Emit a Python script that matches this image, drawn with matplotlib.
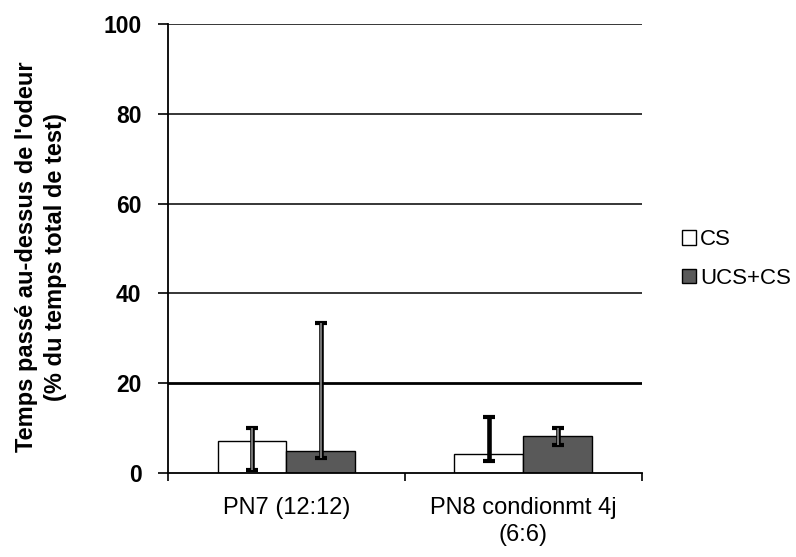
import numpy as np
import matplotlib
matplotlib.use("Agg")
import matplotlib.pyplot as plt

plt.rcParams['font.family'] = ['Liberation Sans', 'DejaVu Sans']

# groups and per-series means with lower/upper error bounds (% of test time)
groups = ["PN7 (12:12)", "PN8 condionmt 4j\n(6:6)"]
series = ["CS", "UCS+CS"]
cs_mean = [7.2, 4.3]
cs_low = [0.7, 2.7]
cs_high = [9.9, 12.4]
ucs_mean = [4.9, 8.3]
ucs_low = [3.3, 6.2]
ucs_high = [33.3, 10.1]
yticks = [0, 20, 40, 60, 80, 100]

fig = plt.figure(figsize=(7.96, 5.57), dpi=100)
ax = fig.add_axes([0.211, 0.151, 0.595, 0.806])

x = np.arange(len(groups))
w = 0.29

# horizontal grid lines (the 20 line is heavier)
for t in yticks[1:]:
    ax.axhline(t, color="black", lw=2.0 if t == 20 else 1.1, zorder=1)

ax.bar(x - w / 2, cs_mean, w, color="white", edgecolor="black", lw=1.0,
       label=series[0], zorder=2)
ax.bar(x + w / 2, ucs_mean, w, color="#595959", edgecolor="black", lw=1.0,
       label=series[1], zorder=2)

def draw_err(xs, means, lows, highs, inner):
    means = np.array(means)
    yerr = [means - np.array(lows), np.array(highs) - means]
    ax.errorbar(xs, means, yerr=yerr, fmt="none", ecolor="black",
                elinewidth=3.3, capsize=4.5, capthick=3, zorder=3)
    if inner is not None:
        ax.errorbar(xs, means, yerr=yerr, fmt="none", ecolor=inner,
                    elinewidth=1.3, capsize=0, zorder=4)

draw_err([x[0] - w / 2], cs_mean[:1], cs_low[:1], cs_high[:1], "#808080")
draw_err([x[1] - w / 2], cs_mean[1:], cs_low[1:], cs_high[1:], None)
draw_err(x + w / 2, ucs_mean, ucs_low, ucs_high, "#808080")

ax.set_xlim(-0.5, 1.5)
ax.set_ylim(0, 100)
ax.set_yticks(yticks)
ax.set_yticklabels([str(t) for t in yticks], fontsize=16.5, fontweight="bold")
ax.set_xticks([-0.5, 0.5, 1.5])
ax.set_xticklabels([])
ax.set_xticks(x, minor=True)
ax.set_xticklabels(groups, minor=True, fontsize=17, linespacing=1.3)
ax.tick_params(axis="x", which="minor", length=0, pad=17)
ax.tick_params(axis="x", which="major", direction="out", length=6, width=1.2)
ax.tick_params(axis="y", direction="out", length=7, width=1.2, pad=12)

for s in ["top", "right"]:
    ax.spines[s].set_visible(False)
ax.spines["left"].set_linewidth(1.3)
ax.spines["bottom"].set_linewidth(1.3)
ax.spines["bottom"].set_zorder(5)

fig.text(41 / 796, 1 - 257 / 557,
         "Temps passé au-dessus de l'odeur\n(% du temps total de test)",
         rotation=90, ha="center", va="center", fontsize=17,
         fontweight="bold", linespacing=1.3)

ax.legend(loc="center left", bbox_to_anchor=(1.044, 0.476), frameon=False,
          fontsize=16, handlelength=0.6, handleheight=0.6, handletextpad=0.2,
          labelspacing=0.8)

fig.savefig("out.png", dpi=100)
